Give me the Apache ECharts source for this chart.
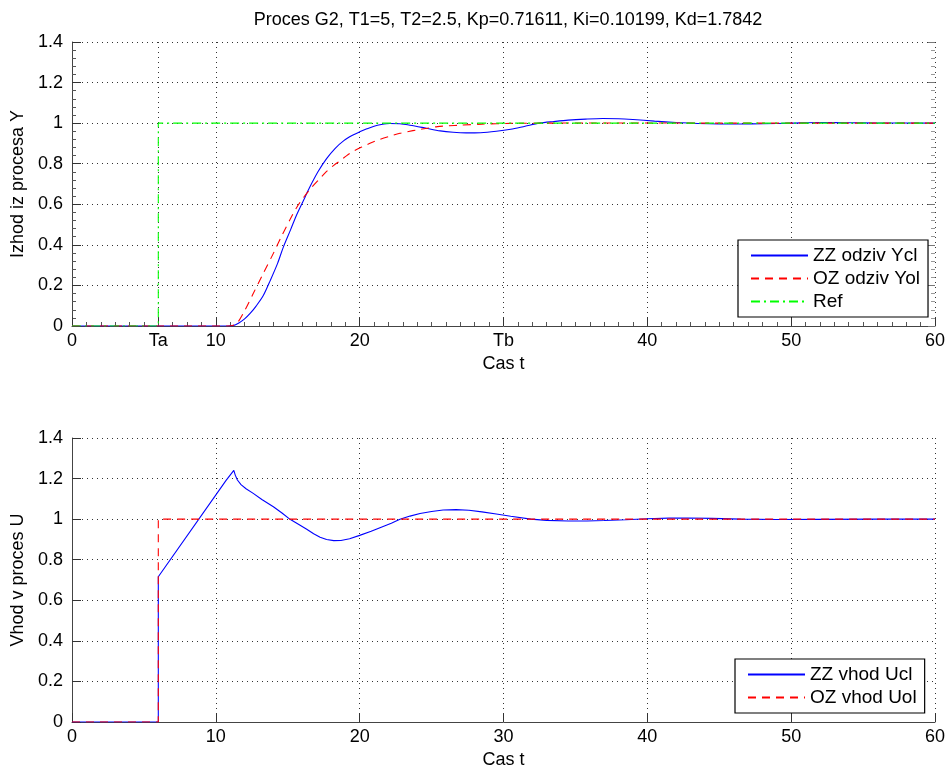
<!DOCTYPE html>
<html>
<head>
<meta charset="utf-8">
<script src="https://cdn.jsdelivr.net/npm/echarts@6/dist/echarts.min.js"></script>
<style>
  html, body { margin: 0; padding: 0; background: #fff; }
  #graph { width: 950px; height: 773px; }
</style>
</head>
<body>
<div id="graph"></div>
<script>
// top plot: process output
const tYcl = [0, 10.8, 11.2, 11.6, 12.0, 12.4, 12.8, 13.3, 13.8, 14.3, 14.7, 15.2, 15.6, 16.1, 16.5, 17.1, 17.7, 18.3, 18.9, 19.5, 20.0, 20.5, 21.0, 21.5, 22.1, 22.8, 23.5, 24.5, 25.6, 26.5, 27.4, 28.4, 29.5, 30.5, 31.5, 32.5, 33.5, 34.5, 35.7, 36.9, 38, 39, 40.5, 42, 43.5, 45, 46.5, 48, 50, 52, 54, 56, 60];
const yCl = [0, 0, 0.002, 0.015, 0.035, 0.063, 0.098, 0.15, 0.227, 0.31, 0.39, 0.475, 0.545, 0.62, 0.68, 0.76, 0.825, 0.876, 0.914, 0.94, 0.957, 0.972, 0.985, 0.993, 0.998, 0.997, 0.99, 0.977, 0.962, 0.955, 0.952, 0.953, 0.96, 0.97, 0.985, 1.0, 1.008, 1.015, 1.02, 1.023, 1.022, 1.018, 1.01, 1.003, 0.998, 0.996, 0.996, 0.997, 1.0, 1.003, 1.002, 1.001, 1.0];
const tYol = [0, 10.9, 11.45, 12.0, 12.6, 13.3, 14.0, 14.6, 15.16, 15.6, 16.08, 16.6, 17.25, 17.7, 18.2, 18.7, 19.1, 19.6, 20.2, 20.8, 21.4, 22.1, 22.8, 23.4, 24.0, 24.7, 25.4, 26.2, 27, 28.5, 30.5, 33, 36, 40, 45, 50, 60];
const yOl = [0, 0, 0.013, 0.075, 0.16, 0.26, 0.358, 0.447, 0.525, 0.582, 0.632, 0.678, 0.728, 0.762, 0.792, 0.818, 0.84, 0.863, 0.884, 0.903, 0.92, 0.936, 0.95, 0.959, 0.967, 0.975, 0.983, 0.987, 0.99, 0.995, 0.999, 1.0, 1.001, 1.001, 1.0, 1.0, 1.0];
const tRef = [0, 6, 6, 60];
const yRef = [0, 0, 1, 1];

// bottom plot: process input
const tUcl = [0, 6, 6, 10.7, 11.25, 11.35, 11.5, 11.75, 12.1, 12.6, 13.2, 14.0, 14.6, 15.16, 15.8, 16.32, 16.8, 17.25, 17.7, 18.2, 18.7, 19.3, 20.0, 20.8, 21.5, 22.2, 22.8, 23.5, 24.2, 25.0, 25.8, 26.7, 27.6, 28.5, 29.5, 30.5, 31.9, 33, 34.5, 35.8, 37, 38.5, 40, 41.5, 42.8, 44.5, 46.5, 49, 52, 56, 60];
const uCl = [0, 0, 0.716, 1.19, 1.24, 1.217, 1.193, 1.17, 1.15, 1.127, 1.097, 1.061, 1.03, 0.999, 0.972, 0.95, 0.928, 0.911, 0.9, 0.894, 0.895, 0.903, 0.92, 0.94, 0.96, 0.98, 0.999, 1.015, 1.028, 1.038, 1.045, 1.047, 1.044, 1.036, 1.025, 1.014, 1.0, 0.994, 0.991, 0.991, 0.993, 0.997, 1.002, 1.005, 1.006, 1.004, 1.0, 0.998, 0.999, 1.0, 1.0];
const tUol = [0, 6, 6, 60];
const uOl = [0, 0, 1, 1];

const topTicks = [0, 6, 10, 20, 30, 40, 50, 60];
const topTickNames = {6: 'Ta', 30: 'Tb'};

const pairs = (ts, vs) => ts.map((t, i) => [t, vs[i]]);
const font = "'Liberation Sans', Arial, sans-serif";
const dotted = { show: true, lineStyle: { color: '#333', type: [1, 4], width: 1 } };
const axLine = { lineStyle: { color: '#444' } };

function line(name, data, color, type, xi, smooth) {
  return {
    name: name, type: 'line', data: data, xAxisIndex: xi, yAxisIndex: xi,
    showSymbol: false, symbol: 'none', animation: false, smooth: smooth || false,
    lineStyle: { color: color, width: 1.1, type: type },
    itemStyle: { color: color }
  };
}

const legendBase = {
  orient: 'vertical',
  itemWidth: 57, itemHeight: 14, itemGap: 4, padding: [6, 8, 6, 12],
  backgroundColor: '#fff', borderColor: '#000', borderWidth: 1.2, borderRadius: 0,
  itemStyle: { opacity: 0 },
  textStyle: { fontSize: 19, color: '#000', fontFamily: font }
};

const chart = echarts.init(document.getElementById('graph'));
chart.setOption({
  animation: false,
  textStyle: { fontFamily: font },
  title: {
    text: 'Proces G2, T1=5, T2=2.5, Kp=0.71611, Ki=0.10199, Kd=1.7842',
    left: 503, top: 6, textAlign: 'center',
    textStyle: { fontSize: 18, fontWeight: 'normal', color: '#000', fontFamily: font }
  },
  grid: [
    { left: 72, top: 42, width: 863, height: 284 },
    { left: 72, top: 438, width: 863, height: 284 }
  ],
  legend: [
    Object.assign({ data: ['ZZ odziv Ycl', 'OZ odziv Yol', 'Ref'], left: 738, top: 240 }, legendBase),
    Object.assign({ data: ['ZZ vhod Ucl', 'OZ vhod Uol'], left: 735, top: 659 }, legendBase)
  ],
  xAxis: [
    {
      gridIndex: 0, type: 'value', min: 0, max: 60, interval: 10,
      name: 'Cas t', nameLocation: 'middle', nameGap: 29,
      nameTextStyle: { fontSize: 18, color: '#000' },
      axisLine: axLine,
      axisTick: { inside: true, length: 9, customValues: topTicks, lineStyle: { color: '#333' } },
      minorTick: { show: true, splitNumber: 10, length: 4, lineStyle: { color: '#555' } },
      axisLabel: {
        customValues: topTicks, fontSize: 18, color: '#000', margin: 6,
        formatter: v => topTickNames[v] || String(v)
      },
      splitLine: dotted
    },
    {
      gridIndex: 1, type: 'value', min: 0, max: 60, interval: 10,
      name: 'Cas t', nameLocation: 'middle', nameGap: 29,
      nameTextStyle: { fontSize: 18, color: '#000' },
      axisLine: axLine,
      axisTick: { inside: true, length: 9, lineStyle: { color: '#333' } },
      axisLabel: { fontSize: 18, color: '#000', margin: 6 },
      splitLine: dotted
    }
  ],
  yAxis: [
    {
      gridIndex: 0, type: 'value', min: 0, max: 1.4, interval: 0.2,
      name: 'Izhod iz procesa Y', nameLocation: 'middle', nameGap: 44,
      nameTextStyle: { fontSize: 18, color: '#000' },
      axisLine: { show: true, lineStyle: { color: '#444' } },
      axisTick: { show: true, inside: true, length: 9, lineStyle: { color: '#333' } },
      minorTick: { show: true, splitNumber: 5, length: 4, lineStyle: { color: '#555' } },
      axisLabel: { fontSize: 18, color: '#000', margin: 9, formatter: v => String(+v.toFixed(1)) },
      splitLine: dotted
    },
    {
      gridIndex: 1, type: 'value', min: 0, max: 1.4, interval: 0.2,
      name: 'Vhod v proces U', nameLocation: 'middle', nameGap: 44,
      nameTextStyle: { fontSize: 18, color: '#000' },
      axisLine: { show: true, lineStyle: { color: '#444' } },
      axisTick: { show: true, inside: true, length: 9, lineStyle: { color: '#333' } },
      axisLabel: { fontSize: 18, color: '#000', margin: 9, formatter: v => String(+v.toFixed(1)) },
      splitLine: dotted
    },
    {
      // right edge ticks of the upper box
      gridIndex: 0, type: 'value', position: 'right', min: 0, max: 1.4, interval: 0.2,
      axisLine: { show: false },
      axisTick: { show: true, inside: true, length: 7, lineStyle: { color: '#777' } },
      minorTick: { show: true, splitNumber: 5, length: 4, lineStyle: { color: '#999' } },
      axisLabel: { show: false },
      splitLine: { show: false }
    }
  ],
  series: [
    line('ZZ odziv Ycl', pairs(tYcl, yCl), '#0000ff', 'solid', 0, 0.3),
    line('OZ odziv Yol', pairs(tYol, yOl), '#ff0000', [8, 6], 0, 0.3),
    line('Ref', pairs(tRef, yRef), '#00ff00', [9, 4, 2, 4], 0),
    line('ZZ vhod Ucl', pairs(tUcl, uCl), '#0000ff', 'solid', 1),
    line('OZ vhod Uol', pairs(tUol, uOl), '#ff0000', [8, 6], 1)
  ]
});
</script>
</body>
</html>
